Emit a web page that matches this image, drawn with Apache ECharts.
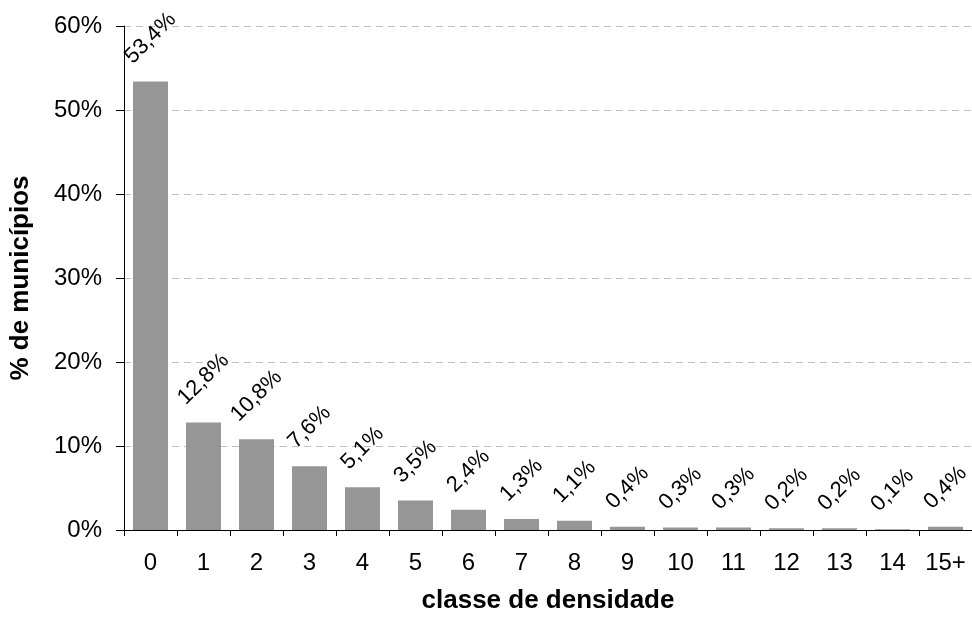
<!DOCTYPE html>
<html>
<head>
<meta charset="utf-8">
<script src="https://cdn.jsdelivr.net/npm/echarts@6/dist/echarts.min.js"></script>
<style>
  html, body { margin: 0; padding: 0; background: #ffffff; }
  #chart { width: 972px; height: 623px; }
</style>
</head>
<body>
<div id="chart"></div>
<script>
// Distribution of municipalities by density class
const categories = ['0', '1', '2', '3', '4', '5', '6', '7', '8', '9', '10', '11', '12', '13', '14', '15+'];
const shares = [53.4, 12.8, 10.8, 7.6, 5.1, 3.5, 2.4, 1.3, 1.1, 0.4, 0.3, 0.3, 0.2, 0.2, 0.1, 0.4];
const yTicks = [0, 10, 20, 30, 40, 50, 60];

const FONT = '"Liberation Sans", Arial, Helvetica, sans-serif';
const LABEL_SIZE = 22;

function pct(v) {
  return v.toFixed(1).replace('.', ',') + '%';
}

// Rotated labels sit with their bounding box a fixed gap above each bar,
// so the distance to the label centre depends on the text length.
const measureCtx = document.createElement('canvas').getContext('2d');
measureCtx.font = LABEL_SIZE + 'px ' + FONT;
function labelDistance(text) {
  const w = measureCtx.measureText(text).width;
  return 15 + (w + LABEL_SIZE * 0.8) * Math.SQRT1_2 / 2;
}

const barData = shares.map(v => ({
  value: v,
  label: { distance: labelDistance(pct(v)) }
}));

const chart = echarts.init(document.getElementById('chart'), null, { renderer: 'canvas' });
chart.setOption({
  animation: false,
  backgroundColor: '#ffffff',
  grid: { left: 123, right: 0, top: 26, bottom: 93, containLabel: false },
  xAxis: {
    type: 'category',
    data: categories,
    name: 'classe de densidade',
    nameLocation: 'middle',
    nameGap: 58,
    nameTextStyle: { fontFamily: FONT, fontSize: 26, fontWeight: 'bold', color: '#000' },
    axisLine: { lineStyle: { color: '#000', width: 1 } },
    axisTick: { show: true, alignWithLabel: false, length: 6, lineStyle: { color: '#000' } },
    axisLabel: { fontFamily: FONT, fontSize: 24, color: '#000', margin: 21 },
    splitLine: { show: false }
  },
  yAxis: {
    type: 'value',
    min: yTicks[0],
    max: yTicks[yTicks.length - 1],
    interval: yTicks[1] - yTicks[0],
    name: '% de municípios',
    nameLocation: 'middle',
    nameGap: 90,
    nameTextStyle: { fontFamily: FONT, fontSize: 26, fontWeight: 'bold', color: '#000' },
    axisLine: { show: true, lineStyle: { color: '#000', width: 1 } },
    axisTick: { show: true, length: 8, lineStyle: { color: '#000' } },
    axisLabel: { fontFamily: FONT, fontSize: 24, color: '#000', margin: 22, formatter: '{value}%' },
    splitLine: { show: true, lineStyle: { color: '#c0c0c0', type: [7, 5], width: 1 } }
  },
  series: [{
    type: 'bar',
    data: barData,
    barWidth: 35,
    itemStyle: { color: '#969696' },
    label: {
      show: true,
      position: 'top',
      rotate: 45,
      align: 'center',
      verticalAlign: 'middle',
      fontFamily: FONT,
      fontSize: LABEL_SIZE,
      color: '#000',
      formatter: p => pct(p.value)
    }
  }]
});
</script>
</body>
</html>
